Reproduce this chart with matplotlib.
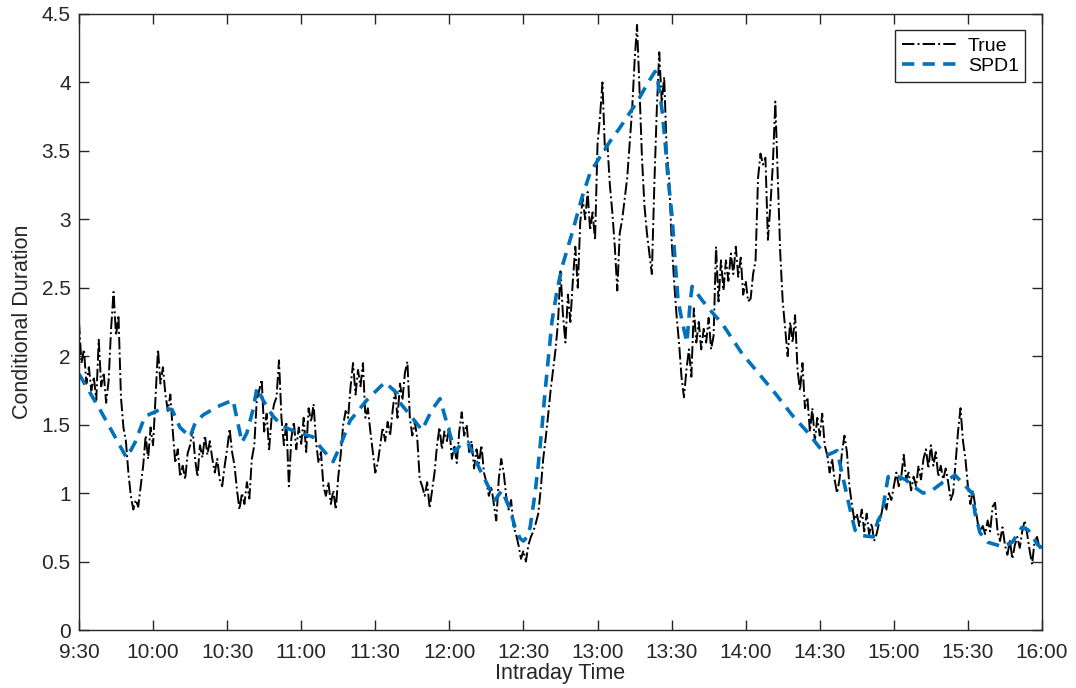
import numpy as np
import matplotlib
matplotlib.use("Agg")
import matplotlib.pyplot as plt

plt.rcParams["font.family"] = ["Liberation Sans", "DejaVu Sans"]

# minutes since 9:30, one value per minute
true_minutes = np.arange(0, 391)
true_values = [
    2.25, 1.95, 2.05, 1.80, 1.92, 1.75, 1.85, 1.68, 2.12, 1.78,
    1.88, 1.66, 1.82, 2.20, 2.47, 2.15, 2.30, 1.70, 1.48, 1.38,
    1.15, 0.98, 0.88, 0.95, 0.90, 1.05, 1.20, 1.42, 1.25, 1.48,
    1.35, 1.70, 2.05, 1.80, 1.92, 1.72, 1.60, 1.72, 1.45, 1.22,
    1.32, 1.12, 1.20, 1.10, 1.29, 1.35, 1.47, 1.25, 1.12, 1.35,
    1.26, 1.42, 1.28, 1.38, 1.25, 1.15, 1.25, 1.10, 1.05, 1.20,
    1.32, 1.47, 1.30, 1.20, 1.02, 0.88, 1.00, 0.92, 1.08, 0.96,
    1.25, 1.35, 1.68, 1.75, 1.83, 1.45, 1.58, 1.32, 1.55, 1.65,
    1.70, 1.97, 1.55, 1.35, 1.52, 1.05, 1.40, 1.52, 1.32, 1.48,
    1.36, 1.55, 1.30, 1.62, 1.52, 1.65, 1.38, 1.22, 1.30, 1.05,
    0.98, 1.08, 0.92, 1.02, 0.88, 1.12, 1.28, 1.50, 1.60, 1.55,
    1.78, 1.95, 1.72, 1.90, 1.78, 1.95, 1.55, 1.62, 1.45, 1.30,
    1.15, 1.22, 1.35, 1.48, 1.38, 1.52, 1.42, 1.60, 1.75, 1.55,
    1.80, 1.68, 1.88, 1.96, 1.55, 1.42, 1.52, 1.40, 1.10, 1.05,
    0.98, 1.08, 0.89, 1.02, 1.15, 1.35, 1.48, 1.32, 1.45, 1.38,
    1.48, 1.25, 1.35, 1.22, 1.45, 1.59, 1.42, 1.50, 1.30, 1.38,
    1.18, 1.32, 1.22, 1.35, 1.15, 1.08, 0.98, 1.05, 0.92, 0.80,
    1.10, 1.25, 1.15, 0.98, 0.88, 0.95, 0.75, 0.70, 0.62, 0.52,
    0.58, 0.50, 0.62, 0.68, 0.72, 0.78, 0.85, 1.03, 1.25, 1.40,
    1.57, 1.75, 1.90, 2.05, 2.25, 2.62, 2.30, 2.10, 2.45, 2.25,
    2.55, 2.80, 2.50, 2.98, 3.15, 3.00, 3.20, 2.92, 3.05, 2.85,
    3.55, 3.75, 4.00, 3.50, 3.55, 3.25, 3.05, 2.80, 2.48, 2.90,
    3.00, 3.15, 3.30, 3.55, 3.80, 4.15, 4.42, 3.95, 3.45, 3.10,
    2.90, 2.75, 2.60, 3.25, 3.80, 4.22, 3.85, 4.04, 3.50, 3.30,
    2.85, 2.55, 2.30, 2.10, 1.85, 1.70, 1.90, 2.05, 1.85, 2.35,
    2.10, 2.25, 2.05, 2.20, 2.10, 2.28, 2.05, 2.15, 2.80, 2.40,
    2.70, 2.48, 2.70, 2.55, 2.75, 2.60, 2.80, 2.58, 2.72, 2.45,
    2.55, 2.40, 2.42, 2.60, 2.70, 3.30, 3.48, 3.40, 3.45, 2.85,
    3.10, 3.40, 3.86, 3.30, 2.75, 2.40, 2.20, 2.00, 2.25, 2.10,
    2.30, 1.90, 1.75, 1.95, 1.62, 1.70, 1.45, 1.62, 1.38, 1.55,
    1.42, 1.58, 1.35, 1.28, 1.15, 1.25, 1.10, 1.00, 1.10, 1.30,
    1.42, 1.30, 1.05, 0.92, 0.80, 0.85, 0.76, 0.88, 0.72, 0.85,
    0.70, 0.78, 0.65, 0.70, 0.78, 0.85, 0.95, 0.88, 1.00, 0.95,
    1.05, 1.15, 1.05, 1.12, 1.28, 1.10, 1.15, 1.02, 1.12, 1.05,
    1.20, 1.10, 1.25, 1.32, 1.18, 1.35, 1.20, 1.30, 1.12, 1.20,
    1.10, 1.18, 1.08, 0.95, 1.00, 1.22, 1.45, 1.62, 1.38, 1.25,
    1.05, 0.92, 1.02, 0.90, 0.78, 0.72, 0.76, 0.70, 0.80, 0.72,
    0.90, 0.93, 0.72, 0.65, 0.75, 0.62, 0.55, 0.65, 0.52, 0.62,
    0.68, 0.60, 0.72, 0.80, 0.70, 0.58, 0.48, 0.65, 0.68, 0.60,
    0.62,
]

spd_minutes = [
    0, 8.5, 13.4, 18.6, 19.4, 22.7, 26.7, 34.0, 37.7, 40.9,
    45.0, 47.0, 50.2, 55.9, 62.4, 63.2, 66.0, 68.0, 70.5, 72.1,
    74.5, 78.2, 82.2, 87.5, 94.8, 97.6, 102.9, 105.7, 109.8, 116.6,
    123.9, 128.8, 130.0, 134.1, 138.9, 143.0, 146.2, 149.0, 152.3, 154.3,
    157.5, 162.4, 168.5, 171.3, 174.6, 176.6, 178.6, 180.0, 181.5, 182.7,
    183.5, 184.7, 185.9, 187.5, 188.7, 190.0, 191.6, 193.6, 195.6, 199.7,
    203.7, 207.0, 211.8, 215.1, 219.1, 222.4, 226.4, 230.5, 233.3, 234.5,
    236.1, 237.3, 238.5, 240.2, 241.4, 242.6, 244.2, 246.2, 247.5, 248.3,
    252.3, 256.4, 260.4, 268.5, 275.0, 281.9, 288.8, 295.3, 300.9, 303.4,
    307.0, 310.3, 312.3, 314.3, 317.1, 321.6, 323.6, 325.2, 327.7, 331.7,
    334.6, 338.6, 341.8, 345.5, 349.9, 354.8, 358.0, 361.7, 362.9, 364.9,
    368.2, 373.8, 377.9, 381.9, 384.4, 388.4, 390.0,
]
spd_values = [
    1.87, 1.61, 1.45, 1.28, 1.26, 1.37, 1.56, 1.62, 1.61, 1.48,
    1.41, 1.51, 1.57, 1.63, 1.68, 1.61, 1.37, 1.44, 1.61, 1.77,
    1.68, 1.57, 1.49, 1.45, 1.41, 1.34, 1.23, 1.34, 1.53, 1.68,
    1.81, 1.73, 1.66, 1.57, 1.46, 1.61, 1.69, 1.51, 1.30, 1.35,
    1.37, 1.17, 0.95, 1.02, 0.88, 0.75, 0.67, 0.65, 0.68, 0.75,
    0.85, 1.00, 1.19, 1.48, 1.73, 1.97, 2.26, 2.48, 2.65, 2.90,
    3.16, 3.34, 3.48, 3.57, 3.67, 3.76, 3.87, 4.00, 4.08, 4.00,
    3.80, 3.58, 3.31, 3.02, 2.70, 2.41, 2.26, 2.10, 2.39, 2.51,
    2.41, 2.32, 2.24, 2.02, 1.88, 1.73, 1.57, 1.44, 1.31, 1.28,
    1.31, 1.04, 0.88, 0.73, 0.69, 0.68, 0.80, 0.85, 1.12, 1.12,
    1.10, 1.04, 1.00, 1.02, 1.08, 1.13, 1.07, 1.00, 0.85, 0.71,
    0.64, 0.61, 0.64, 0.75, 0.73, 0.62, 0.60,
]

xtick_pos = np.arange(0, 391, 30)
xtick_labels = ["9:30", "10:00", "10:30", "11:00", "11:30", "12:00", "12:30",
                "13:00", "13:30", "14:00", "14:30", "15:00", "15:30", "16:00"]
ytick_pos = np.arange(0, 4.51, 0.5)
ytick_labels = ["0", "0.5", "1", "1.5", "2", "2.5", "3", "3.5", "4", "4.5"]

fig = plt.figure(figsize=(10.76, 6.88), dpi=100)
ax = fig.add_axes([0.0734, 0.0843, 0.8950, 0.8954])

ax.plot(true_minutes, true_values, color="black", linestyle="-.", linewidth=1.4,
        label="True")
ax.plot(spd_minutes, spd_values, color="#0072BD", linewidth=2.6,
        dashes=(3.4, 2.3), label="SPD1")

ax.set_xlim(0, 390)
ax.set_ylim(0, 4.5)
ax.set_xticks(xtick_pos)
ax.set_xticklabels(xtick_labels)
ax.set_yticks(ytick_pos)
ax.set_yticklabels(ytick_labels)

for side in ["left", "right", "top", "bottom"]:
    ax.spines[side].set_color("#262626")
    ax.spines[side].set_linewidth(1.0)
ax.tick_params(direction="in", length=7, width=1.0, colors="#262626",
               labelsize=15, top=True, right=True)
ax.tick_params(axis="x", pad=9)
ax.tick_params(axis="y", pad=6)

ax.set_xlabel("Intraday Time", fontsize=15.5, color="#262626", labelpad=1)
ax.set_ylabel("Conditional Duration", fontsize=15.5, color="#262626", labelpad=6)

leg = ax.legend(loc="upper right", fontsize=14, frameon=True, fancybox=False,
                edgecolor="#262626", framealpha=1, handlelength=2.9,
                borderaxespad=0.85, borderpad=0.35, labelspacing=0.12,
                handletextpad=0.5)
leg.get_frame().set_linewidth(1.0)

fig.savefig("out.png", dpi=100)
